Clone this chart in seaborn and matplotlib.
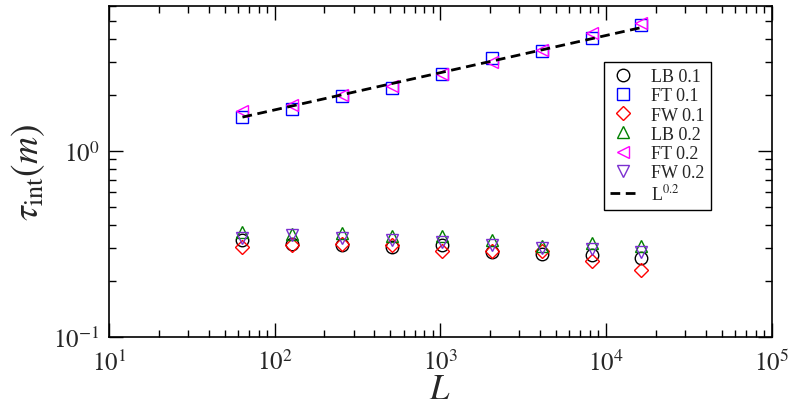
import numpy as np
import pandas as pd
import seaborn as sns
import matplotlib.pyplot as plt
from matplotlib.ticker import FuncFormatter

L = [64, 128, 256, 512, 1024, 2048, 4096, 8192, 16384]

lb_01 = [0.330, 0.316, 0.312, 0.304, 0.312, 0.284, 0.280, 0.276, 0.265]
ft_01 = [1.52, 1.68, 1.97, 2.18, 2.59, 3.15, 3.45, 4.05, 4.76]
fw_01 = [0.305, 0.310, 0.316, 0.310, 0.290, 0.290, 0.288, 0.257, 0.230]
lb_02 = [0.365, 0.358, 0.362, 0.350, 0.350, 0.331, 0.307, 0.320, 0.307]
ft_02 = [1.63, 1.77, 2.00, 2.24, 2.59, 3.00, 3.46, 4.29, 4.86]
fw_02 = [0.340, 0.354, 0.339, 0.333, 0.323, 0.310, 0.300, 0.298, 0.286]

fit_amp = 0.66
fit_exp = 0.2

sns.set_theme(style="ticks")
plt.rcParams["font.family"] = "serif"
plt.rcParams["font.serif"] = ["Liberation Serif", "DejaVu Serif"]
plt.rcParams["mathtext.fontset"] = "stix"

fig, ax = plt.subplots(figsize=(7.89, 4.10), dpi=100)
fig.subplots_adjust(left=0.138, right=0.978, bottom=0.176, top=0.983)
ax.set_xscale("log")
ax.set_yscale("log")

series = [
    ("LB 0.1", lb_01, "o", "black"),
    ("FT 0.1", ft_01, "s", "blue"),
    ("FW 0.1", fw_01, "D", "red"),
    ("LB 0.2", lb_02, "^", "green"),
    ("FT 0.2", ft_02, "<", "magenta"),
    ("FW 0.2", fw_02, "v", "#7b2fd0"),
]

for name, vals, mk, col in series:
    df = pd.DataFrame({"L": L, "tau": vals})
    ms = 7 if mk == "D" else 9
    sns.lineplot(data=df, x="L", y="tau", ax=ax, linestyle="none",
                 marker=mk, markersize=ms, markerfacecolor="none",
                 markeredgecolor=col, markeredgewidth=1.0, color=col,
                 label=name)

fit = pd.DataFrame({"L": L, "tau": fit_amp * np.array(L, dtype=float) ** fit_exp})
sns.lineplot(data=fit, x="L", y="tau", ax=ax, color="black", linewidth=2,
             dashes=False, label=r"L$^{0.2}$")
ax.lines[-1].set_dashes((3.5, 2))

ax.set_xlim(10, 1e5)
ax.set_ylim(0.1, 6.0)

pow_fmt = FuncFormatter(lambda v, p: r"$10^{%d}$" % round(np.log10(v)))
ax.xaxis.set_major_formatter(pow_fmt)
ax.yaxis.set_major_formatter(pow_fmt)

ax.tick_params(which="both", direction="in", top=True, right=True,
               labelsize=18, width=1, color="black")
ax.tick_params(which="major", length=10)
ax.tick_params(axis="x", which="major", pad=9)
ax.tick_params(axis="y", which="major", pad=7)
ax.tick_params(which="minor", length=5)
for s in ax.spines.values():
    s.set_linewidth(1.2)
    s.set_color("black")

ax.set_xlabel(r"$L$", fontsize=25, labelpad=-1)
ax.set_ylabel(r"$\tau_{\rm int}(m)$", fontsize=27, labelpad=4)

leg = ax.legend(loc="upper right", bbox_to_anchor=(0.908, 0.831),
                borderaxespad=0, frameon=True, fancybox=False, fontsize=13,
                handlelength=1.45, handletextpad=0.8, borderpad=0.35,
                labelspacing=0.12)
leg.get_frame().set_edgecolor("black")
leg.get_frame().set_linewidth(1.0)
leg.get_frame().set_alpha(1)

plt.savefig("out.png", dpi=100)
plt.close()
